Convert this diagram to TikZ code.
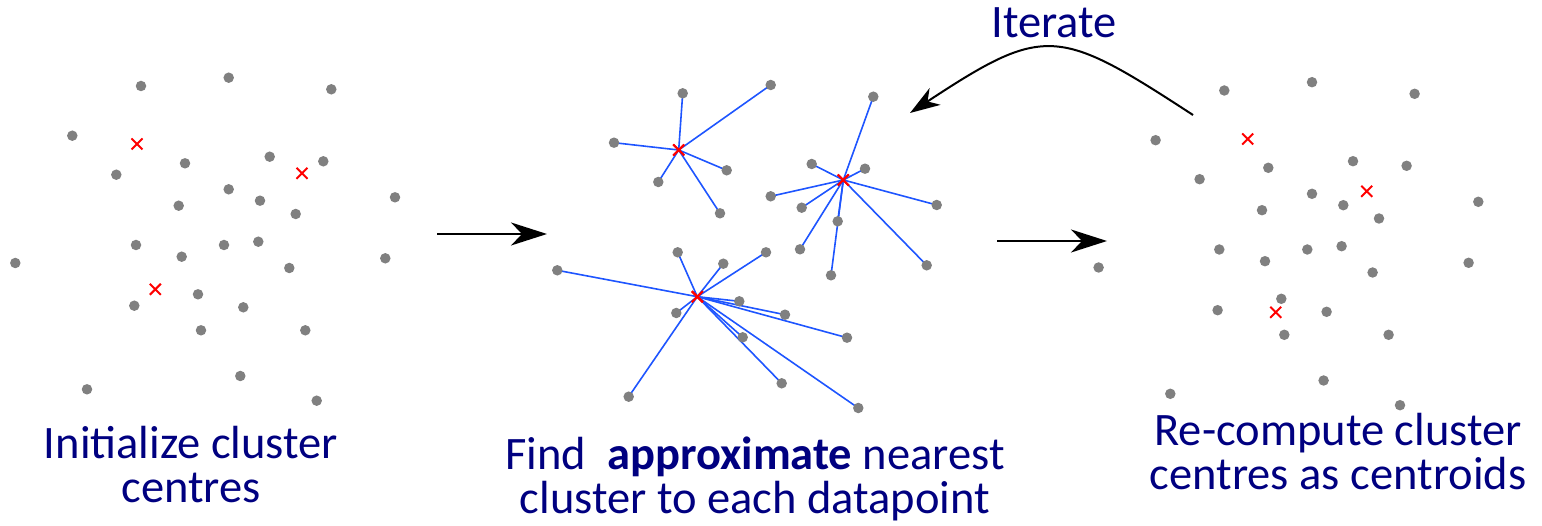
\documentclass[tikz,border=0pt]{standalone}
\usepackage{fontspec}
\setmainfont{Carlito}
\usetikzlibrary{arrows.meta,shapes.misc,backgrounds}
\definecolor{navytext}{RGB}{0,0,128}
\definecolor{dotgray}{RGB}{128,128,128}
\definecolor{linkblue}{RGB}{30,85,255}
\begin{document}
\begin{tikzpicture}[x=1pt,y=-1pt,
  dot/.style={circle,fill=dotgray,inner sep=0pt,minimum size=10.5pt},
  centre/.style={cross out,draw=red,line width=2pt,inner sep=0pt,minimum size=9pt},
  link/.style={draw=linkblue,line width=1.6pt},
  flow/.style={-{Stealth[length=36pt,width=23pt,inset=11pt]},line width=2.2pt},
  loopflow/.style={-{Stealth[length=30pt,width=20pt,inset=9pt]},line width=2pt},
  caption/.style={text=navytext,align=center,font=\fontsize{46.5}{44}\selectfont,inner sep=0pt}]
\useasboundingbox (0,0) rectangle (1542,526);

% ---------- panel 1 : initial centres ----------
\foreach \n/\x/\y in {1/141/86,2/228.7/77.7,3/331.3/89.3,4/72.3/135.7,5/185/163.3,
  6/269.7/156.7,7/323.3/161.3,8/116.3/174.7,9/228.7/189.3,10/260/200.7,
  11/178.7/205.7,12/295.7/214,13/395/197.3,14/136/245,15/224/245,
  16/258.3/241.7,17/181.7/256.7,18/15.3/263,19/289.3/268,20/385.3/258.3,
  21/198/294.3,22/134.3/305.7,23/243.3/307.3,24/201/330.3,25/305.3/330.3,
  26/240.3/376,27/87/389.3,28/316.7/400.7}
  \node[dot] (a\n) at (\x,\y) {};
\node[centre] (ac1) at (137,144) {};
\node[centre] (ac2) at (302,173.3) {};
\node[centre] (ac3) at (155.3,289.3) {};

% ---------- panel 3 : recomputed centres ----------
\begin{scope}[shift={(1083.3,4.5)}]
\foreach \n/\x/\y in {1/141/86,2/228.7/77.7,3/331.3/89.3,4/72.3/135.7,5/185/163.3,
  6/269.7/156.7,7/323.3/161.3,8/116.3/174.7,9/228.7/189.3,10/260/200.7,
  11/178.7/205.7,12/295.7/214,13/395/197.3,14/136/245,15/224/245,
  16/258.3/241.7,17/181.7/256.7,18/15.3/263,19/289.3/268,20/385.3/258.3,
  21/198/294.3,22/134.3/305.7,23/243.3/307.3,24/201/330.3,25/305.3/330.3,
  26/240.3/376,27/87/389.3,28/316.7/400.7}
  \node[dot] (c\n) at (\x,\y) {};
\end{scope}
\node[centre] (cc1) at (1247.7,139) {};
\node[centre] (cc2) at (1366.7,191.3) {};
\node[centre] (cc3) at (1275.7,312.3) {};

% ---------- panel 2 : assignment ----------
\node[centre] (bA) at (678.7,150) {};
\node[centre] (bB) at (843.3,180) {};
\node[centre] (bC) at (697.3,296.7) {};
\foreach \n/\x/\y in {1/682.7/93.3,2/770.7/85,3/614/142.7,4/726.7/170.3,5/658.3/182,6/720/213.3}{
  \node[dot] (bA\n) at (\x,\y) {};
  \begin{scope}[on background layer]\draw[link] (bA.center) -- (bA\n.center);\end{scope}
}
\foreach \n/\x/\y in {1/873.3/96.7,2/811.7/164,3/865/168.7,4/770.7/196.3,5/801.7/207.7,
  6/936.7/205,7/837.7/221.3,8/800/249.3,9/926.7/265.3,10/831/275.3}{
  \node[dot] (bB\n) at (\x,\y) {};
  \begin{scope}[on background layer]\draw[link] (bB.center) -- (bB\n.center);\end{scope}
}
\foreach \n/\x/\y in {1/677.7/252.3,2/723.3/263.7,3/766/252.3,4/557.3/270.3,5/739.3/301.3,
  6/676.3/313,7/785/314.7,8/847/337.7,9/742.7/337.3,10/781.7/383.3,11/628.7/396.7,12/858.3/408}{
  \node[dot] (bC\n) at (\x,\y) {};
  \begin{scope}[on background layer]\draw[link] (bC.center) -- (bC\n.center);\end{scope}
}
% redraw crosses on top
\node[centre] at (bA) {};
\node[centre] at (bB) {};
\node[centre] at (bC) {};

% ---------- arrows ----------
\coordinate (f1s) at (437,234);
\coordinate (f1e) at (547,234);
\coordinate (f2s) at (997,241);
\coordinate (f2e) at (1107,241);
\draw[flow] (f1s) -- (f1e);
\draw[flow] (f2s) -- (f2e);
\coordinate (it1) at (1193,115);
\coordinate (it2) at (910,113);
\draw[loopflow] (it1) .. controls (1058,27) and (1045,24) .. (it2);
\node[caption,anchor=base] (iter) at (1054,38) {Iterate};

% ---------- captions ----------
\node[caption,anchor=base] (cap1) at (191,502) {Initialize cluster\\centres};
\node[caption,anchor=base] (cap2) at (755,513) {Find~ \textbf{approximate} nearest\\cluster to each datapoint};
\node[caption,anchor=base] (cap3) at (1338,489) {Re-compute cluster\\centres as centroids};
\end{tikzpicture}
\end{document}
